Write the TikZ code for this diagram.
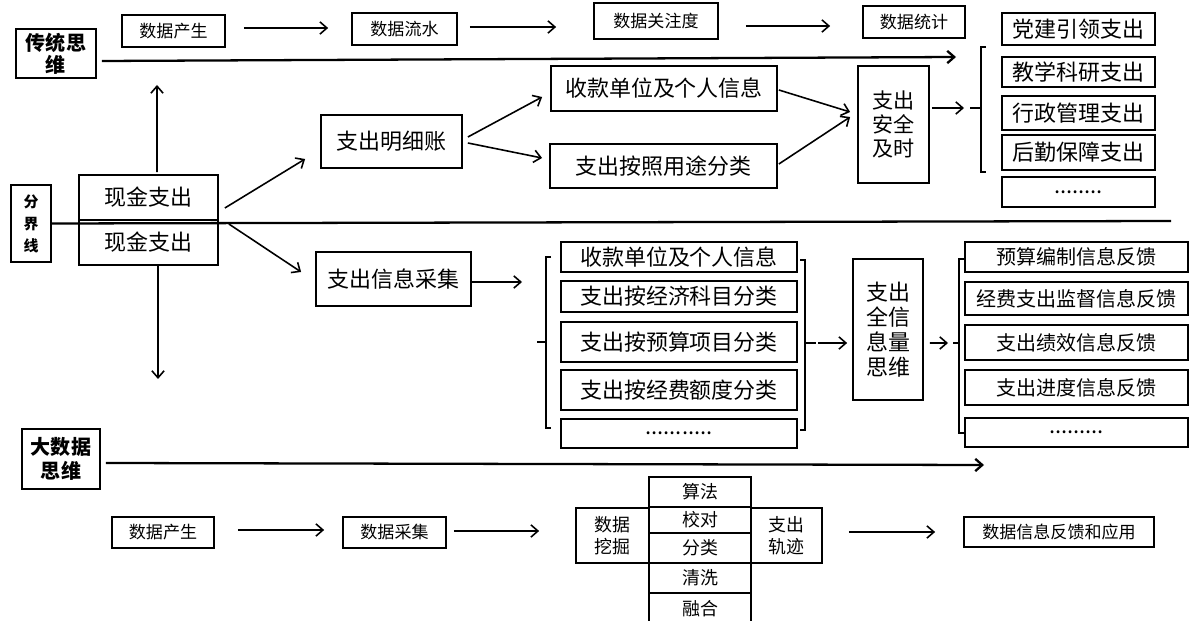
\documentclass[tikz,border=0pt]{standalone}
\usepackage{fontspec}
\setmainfont{Noto Sans CJK SC}
\usetikzlibrary{arrows.meta}
\tikzset{
  box/.style={draw,line width=1pt,inner sep=0pt,align=center},
  wh/.style 2 args={minimum width=#1*0.02cm,minimum height=#2*0.02cm},
  fbig/.style={font=\fontsize{12.5}{14}\selectfont},
  fmid/.style={font=\fontsize{11.4}{13}\selectfont},
  fsmall/.style={font=\fontsize{9.7}{11}\selectfont},
  flab/.style={font=\bfseries\fontsize{11.4}{12.5}\selectfont},
  conn/.style={->,line width=0.9pt},
  longline/.style={line width=1.3pt},
  brace/.style={line width=0.8pt}}

\begin{document}
\begin{tikzpicture}[x=0.02cm,y=-0.02cm,
  >={Straight Barb[length=4pt,width=7pt]}]
\useasboundingbox (0,0) rectangle (1191,621);

% left labels
\node[box,flab,wh={80}{49}] (ctsw) at (56,53.5) {传统思\\维};
\node[box,wh={40}{77},font=\bfseries\fontsize{8.5}{12.5}\selectfont] (fjx) at (31,223.5) {分\\界\\线};
\node[box,flab,wh={78}{60},font=\bfseries\fontsize{11.4}{13.7}\selectfont] (dsjsw) at (61,459) {大数据\\思维};

% top row
\node[box,fsmall,wh={103}{32}] (tcs) at (173.5,31) {数据产生};
\node[box,fsmall,wh={105}{32}] (tls) at (404.5,29) {数据流水};
\node[box,fsmall,wh={124}{36}] (tgz) at (656,21) {数据关注度};
\node[box,fsmall,wh={102}{32}] (ttj) at (914,22) {数据统计};
\draw[conn] ([shift={(18,-3)}]tcs.east) -- ([shift={(-23,-1)}]tls.west);
\draw[conn] ([shift={(12,-2)}]tls.east) -- ([shift={(-37,6)}]tgz.west);
\draw[conn] ([shift={(27,5)}]tgz.east) -- ([shift={(-32,4)}]ttj.west);

% cash boxes and dividing line
\node[box,fbig,wh={139}{45}] (xjU) at (148.5,197.5) {现金支出};
\node[box,fbig,wh={139}{45}] (xjL) at (148.5,242.5) {现金支出};
\coordinate (fjend) at (1171,221);
\draw[longline] (fjx.east) -- (fjend);
\coordinate (cup) at (157,85);
\coordinate (cdn) at (158,379);
\draw[conn] ([shift={(8.5,-2)}]xjU.north) -- (cup);
\draw[conn] ([shift={(9.5,0)}]xjL.south) -- (cdn);

% upper half
\node[box,fbig,wh={141}{53}] (mx) at (391.5,141.5) {支出明细账};
\node[box,fbig,wh={226}{45}] (sk1) at (664,88.5) {收款单位及个人信息};
\node[box,fbig,wh={227}{44}] (yt) at (663.5,166) {支出按照用途分类};
\node[box,wh={71}{117},font=\fontsize{12}{13.4}\selectfont] (aq) at (893.5,124.5) {支出\\安全\\及时};
\node[box,fbig,wh={153}{32}] (r1) at (1078.5,29) {党建引领支出};
\node[box,fbig,wh={153}{30}] (r2) at (1078.5,72) {教学科研支出};
\node[box,fbig,wh={153}{34}] (r3) at (1078.5,113) {行政管理支出};
\node[box,fbig,wh={153}{35}] (r4) at (1078.5,152.5) {后勤保障支出};
\node[box,fbig,wh={153}{30}] (r5) at (1078.5,192) {........};
\coordinate (b1) at (981,108);
\coordinate (topend) at (956,57);
\draw[brace] (986,47) -- (981,47) -- (981,172) -- (986,172);
\draw[brace] (b1) -- (970,108);
\draw[longline,->] ([shift={(5,7.5)}]ctsw.east) -- (topend);
\draw[conn] ([shift={(6,10.5)}]xjU.east) -- ([shift={(-15,17.5)}]mx.west);
\draw[conn] ([shift={(5,-4.5)}]mx.east) -- ([shift={(-8,8.5)}]sk1.west);
\draw[conn] ([shift={(5,1.5)}]mx.east) -- ([shift={(-7,-8)}]yt.west);
\draw[conn] ([shift={(1,1.5)}]sk1.east) -- ([shift={(-7,-12.5)}]aq.west);
\draw[conn] ([shift={(1,-2)}]yt.east) -- ([shift={(-7,-7.5)}]aq.west);
\draw[conn] ([shift={(2,-16.5)}]aq.east) -- ([shift={(-17,0)}]b1);

% lower half
\node[box,fbig,wh={155}{54}] (xx) at (393.5,279) {支出信息采集};
\node[box,fbig,wh={236}{30}] (m1) at (679,257) {收款单位及个人信息};
\node[box,fbig,wh={236}{31}] (m2) at (679,296.5) {支出按经济科目分类};
\node[box,fbig,wh={236}{40}] (m3) at (679,342) {支出按预算项目分类};
\node[box,fbig,wh={236}{40}] (m4) at (679,390) {支出按经费额度分类};
\node[box,fbig,wh={236}{29}] (m5) at (679,433.5) {...........};
\node[box,wh={70}{141},font=\fontsize{12.5}{14.2}\selectfont] (qx) at (888,329.5) {支出\\全信\\息量\\思维};
\node[box,fmid,wh={223}{30}] (f1) at (1076.5,257) {预算编制信息反馈};
\node[box,fmid,wh={223}{33}] (f2) at (1076.5,298.5) {经费支出监督信息反馈};
\node[box,fmid,wh={223}{35}] (f3) at (1076.5,342.5) {支出绩效信息反馈};
\node[box,fmid,wh={223}{35}] (f4) at (1076.5,387.5) {支出进度信息反馈};
\node[box,fbig,wh={223}{29}] (f5) at (1076.5,432.5) {.........};
\coordinate (xxend) at (522,282);
\coordinate (b2) at (546,342);
\coordinate (b3) at (805,343);
\coordinate (b4) at (959,343);
\draw[brace] (551,257) -- (546,257) -- (546,428) -- (551,428);
\draw[brace] (b2) -- (537,342);
\draw[brace] (800,260) -- (805,260) -- (805,430) -- (800,430);
\draw[brace] (b3) -- (816,343);
\draw[brace] (964,259) -- (959,259) -- (959,433) -- (964,433);
\draw[brace] (b4) -- (953,343);
\draw[conn] ([shift={(10,-18.5)}]xjL.east) -- ([shift={(-14,-7)}]xx.west);
\draw[conn] ([shift={(0,3)}]xx.east) -- (xxend);
\draw[conn] ([shift={(13,0)}]b3) -- ([shift={(-5,13.5)}]qx.west);
\draw[conn] ([shift={(6,13.5)}]qx.east) -- ([shift={(-11,0)}]b4);

% big data row
\coordinate (bend) at (984,465);
\draw[longline,->] ([shift={(5,4)}]dsjsw.east) -- (bend);
\node[box,fsmall,wh={102}{31}] (bcs) at (163,532.5) {数据产生};
\node[box,fsmall,wh={103}{31}] (bcj) at (394.5,532.5) {数据采集};
\node[box,wh={73}{55},font=\fontsize{10.2}{12.5}\selectfont] (wj) at (612.5,535.5) {数据\\挖掘};
\node[box,wh={102}{30},font=\fontsize{10.2}{12}\selectfont] (s1) at (700,492) {算法};
\node[box,wh={102}{26},font=\fontsize{10.2}{12}\selectfont] (s2) at (700,520) {校对};
\node[box,wh={102}{30},font=\fontsize{10.2}{12}\selectfont] (s3) at (700,548) {分类};
\node[box,wh={102}{30},font=\fontsize{10.2}{12}\selectfont] (s4) at (700,578) {清洗};
\node[box,wh={102}{32},font=\fontsize{10.2}{12}\selectfont] (s5) at (700,609) {融合};
\node[box,wh={71}{55},font=\fontsize{10.2}{12.5}\selectfont] (zg) at (786.5,535.5) {支出\\轨迹};
\node[box,fsmall,wh={190}{30}] (fk) at (1059,532) {数据信息反馈和应用};
\draw[conn] ([shift={(23,-2.5)}]bcs.east) -- ([shift={(-18,-2.5)}]bcj.west);
\draw[conn] ([shift={(7,-1.5)}]bcj.east) -- ([shift={(-36,-4.5)}]wj.west);
\draw[conn] ([shift={(26,-3.5)}]zg.east) -- ([shift={(-28,0)}]fk.west);
\end{tikzpicture}
\end{document}
